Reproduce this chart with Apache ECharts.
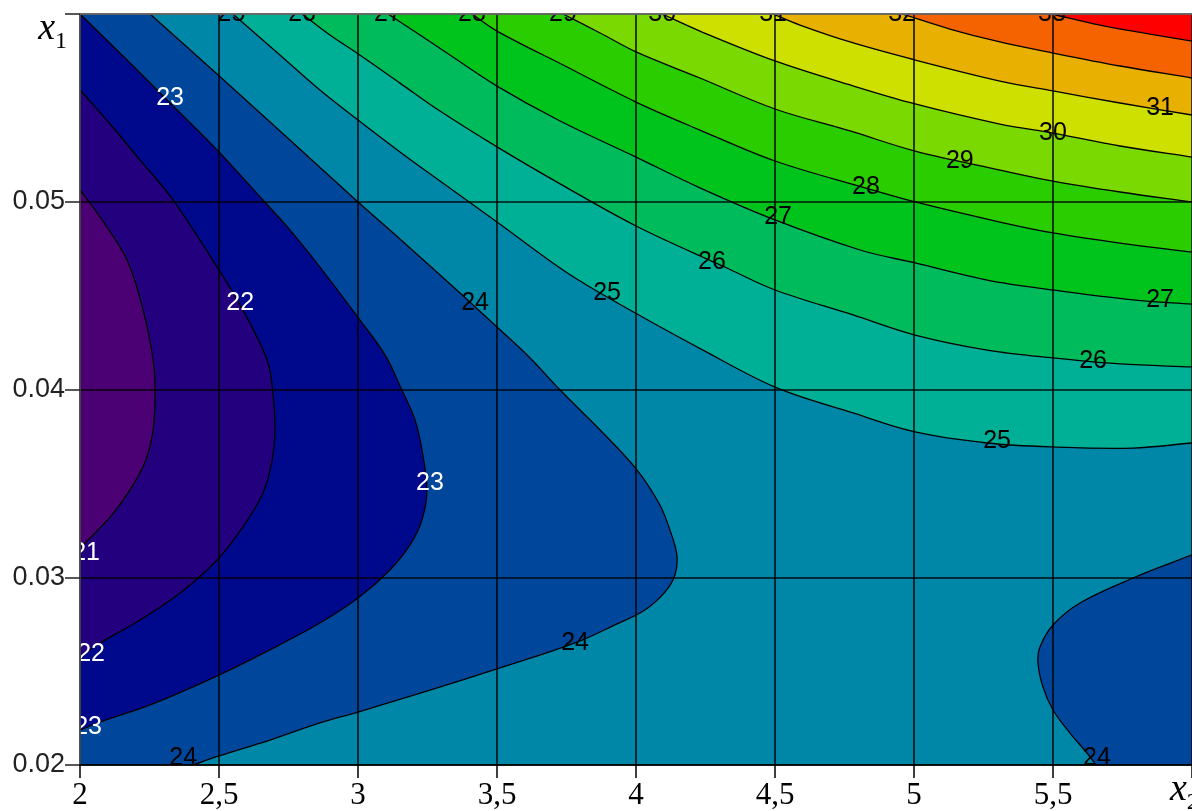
<!DOCTYPE html>
<html>
<head>
<meta charset="utf-8">
<script src="https://cdn.jsdelivr.net/npm/echarts@6/dist/echarts.min.js"></script>
<style>
  html, body { margin: 0; padding: 0; background: #ffffff; }
  #chart { width: 1192px; height: 811px; }
</style>
</head>
<body>
<div id="chart"></div>
<script>
// Axis ranges and ticks (x2 horizontal, x1 vertical)
const x2Ticks = [2, 2.5, 3, 3.5, 4, 4.5, 5, 5.5, 6];
const x1Ticks = [0.02, 0.03, 0.04, 0.05, 0.06];

// Contour lines, points as [x2, x1]
const c21 = [[2.000,0.05063],[2.072,0.04919],[2.169,0.04690],[2.227,0.04423],[2.263,0.04157],[2.270,0.03997],[2.263,0.03784],[2.234,0.03614],[2.180,0.03465],[2.115,0.03332],[2.054,0.03236],[2.000,0.03156]];
const c22 = [[2.000,0.05595],[2.108,0.05414],[2.216,0.05222],[2.335,0.05009],[2.493,0.04652],[2.586,0.04423],[2.673,0.04157],[2.694,0.03981],[2.701,0.03784],[2.691,0.03624],[2.658,0.03449],[2.586,0.03268],[2.493,0.03092],[2.360,0.02916],[2.216,0.02772],[2.072,0.02650],[2.000,0.02575]];
const c23 = [[2.000,0.06000],[2.162,0.05766],[2.324,0.05526],[2.493,0.05276],[2.658,0.05009],[2.755,0.04850],[2.863,0.04652],[3.007,0.04370],[3.097,0.04184],[3.158,0.03997],[3.205,0.03838],[3.230,0.03678],[3.248,0.03465],[3.230,0.03305],[3.187,0.03172],[3.115,0.03039],[3.000,0.02889],[2.863,0.02756],[2.683,0.02613],[2.500,0.02479],[2.252,0.02320],[2.072,0.02229],[2.000,0.02186]];
const c24West = [[2.252,0.06000],[2.493,0.05680],[2.755,0.05329],[3.000,0.04999],[3.151,0.04802],[3.367,0.04514],[3.500,0.04333],[3.619,0.04168],[3.727,0.03997],[3.871,0.03784],[4.004,0.03571],[4.086,0.03385],[4.122,0.03252],[4.147,0.03119],[4.140,0.03012],[4.104,0.02921],[4.032,0.02826],[3.924,0.02746],[3.781,0.02650],[3.511,0.02517],[3.259,0.02399],[3.000,0.02282],[2.863,0.02224],[2.683,0.02133],[2.500,0.02048],[2.406,0.02000]];
const c24East = [[6.000,0.03119],[5.788,0.02996],[5.597,0.02863],[5.500,0.02746],[5.453,0.02628],[5.446,0.02543],[5.464,0.02415],[5.500,0.02293],[5.561,0.02170],[5.622,0.02064],[5.655,0.02000]];
const c25 = [[2.550,0.06000],[2.719,0.05782],[2.863,0.05595],[3.000,0.05435],[3.151,0.05265],[3.295,0.05110],[3.500,0.04892],[3.759,0.04615],[4.004,0.04402],[4.241,0.04210],[4.500,0.04013],[4.781,0.03875],[5.004,0.03774],[5.263,0.03715],[5.500,0.03694],[5.788,0.03688],[6.000,0.03715]];
const c26 = [[2.799,0.06000],[2.899,0.05888],[2.996,0.05792],[3.151,0.05632],[3.295,0.05483],[3.500,0.05292],[3.727,0.05095],[4.000,0.04871],[4.327,0.04647],[4.500,0.04530],[4.781,0.04397],[5.004,0.04290],[5.263,0.04210],[5.500,0.04168],[5.741,0.04136],[6.000,0.04120]];
const c27 = [[3.108,0.06000],[3.223,0.05888],[3.320,0.05792],[3.500,0.05616],[3.727,0.05430],[4.000,0.05238],[4.230,0.05074],[4.500,0.04903],[4.806,0.04743],[5.004,0.04674],[5.263,0.04583],[5.500,0.04530],[5.788,0.04477],[6.000,0.04455]];
const c28 = [[3.410,0.06000],[3.500,0.05909],[3.745,0.05723],[4.000,0.05531],[4.230,0.05382],[4.500,0.05217],[4.824,0.05074],[5.004,0.04999],[5.309,0.04892],[5.500,0.04834],[5.741,0.04780],[6.000,0.04732]];
const c29 = [[3.737,0.06000],[3.871,0.05899],[4.000,0.05798],[4.230,0.05659],[4.500,0.05494],[4.770,0.05377],[5.004,0.05270],[5.309,0.05169],[5.500,0.05110],[5.741,0.05052],[6.000,0.04999]];
const c30 = [[4.094,0.06000],[4.230,0.05909],[4.500,0.05750],[4.770,0.05622],[5.004,0.05521],[5.309,0.05414],[5.500,0.05366],[5.741,0.05297],[6.000,0.05238]];
const c31 = [[4.493,0.06000],[4.590,0.05941],[4.770,0.05851],[5.004,0.05755],[5.309,0.05643],[5.500,0.05590],[5.741,0.05526],[6.000,0.05462]];
const c32 = [[4.957,0.06000],[5.129,0.05920],[5.309,0.05851],[5.500,0.05792],[5.741,0.05723],[6.000,0.05659]];
const c33 = [[5.496,0.06000],[5.669,0.05941],[5.849,0.05893],[6.000,0.05856]];

// Each contour line with its level
const contourLevels = [21, 22, 23, 24, 24, 25, 26, 27, 28, 29, 30, 31, 32, 33];
const contourLines  = [c21, c22, c23, c24West, c24East, c25, c26, c27, c28, c29, c30, c31, c32, c33];

// Fill colour of the band [level, level + 1]
const bandLevels = [20, 21, 22, 23, 24, 25, 26, 27, 28, 29, 30, 31, 32, 33];
const bandColors = ['#4b0073', '#23007e', '#00088b', '#00469b', '#0087a8', '#00b096',
                    '#00bb5c', '#00c31c', '#29cd00', '#79d900', '#cde000', '#e8b000',
                    '#f56300', '#ff0000'];

// Contour labels: [level, x2, x1]
const contourLabels = [
  [23, 2.324, 0.05553], [22, 2.576, 0.04461], [23, 3.259, 0.03502],
  [21, 2.022, 0.03129], [22, 2.040, 0.02591], [23, 2.029, 0.02202],
  [24, 2.371, 0.02037], [24, 3.421, 0.04461], [24, 3.781, 0.02650], [24, 5.658, 0.02037],
  [25, 3.896, 0.04514], [26, 4.273, 0.04679], [27, 4.511, 0.04919], [28, 4.827, 0.05079],
  [29, 5.165, 0.05217], [30, 5.500, 0.05366], [31, 5.885, 0.05499],
  [27, 5.885, 0.04477], [26, 5.644, 0.04152], [25, 5.299, 0.03726],
  [25, 2.545, 0.06], [26, 2.799, 0.06], [27, 3.108, 0.06], [28, 3.410, 0.06], [29, 3.737, 0.06],
  [30, 4.094, 0.06], [31, 4.493, 0.06], [32, 4.957, 0.06], [33, 5.496, 0.06]
];

// ---- geometry helpers ----
const xMin = x2Ticks[0], xMax = x2Ticks[x2Ticks.length - 1];
const yMin = x1Ticks[0], yMax = x1Ticks[x1Ticks.length - 1];
const SMOOTH = 0.35;
const colorOf = lv => bandColors[bandLevels.indexOf(lv)];
// Repeating the end vertices keeps bezier smoothing tangent-free at the
// joints, so polygon edges along the frame stay straight and every fill
// boundary follows exactly the same curve as its stroked contour.
const dupEnds = pts => [pts[0]].concat(pts, [pts[pts.length - 1]]);
const dupAll = pts => pts.reduce((a, p) => a.concat([p, p]), []);

// ---- filled regions, painted in order (later ones on top) ----
const regions = [];
regions.push({ level: 24, smooth: 0, pts: [[xMin, yMin], [xMax, yMin], [xMax, yMax], [xMin, yMax]] });
[[25, c25], [26, c26], [27, c27], [28, c28], [29, c29], [30, c30], [31, c31], [32, c32], [33, c33]]
  .forEach(([lv, line]) => regions.push({ level: lv, pts: dupEnds(line).concat(dupAll([[xMax, yMax]])) }));
regions.push({ level: 23, pts: dupEnds(c24West).concat(dupAll([[xMin, yMin], [xMin, yMax]])) });
regions.push({ level: 22, pts: dupEnds(c23) });
regions.push({ level: 21, pts: dupEnds(c22) });
regions.push({ level: 20, pts: dupEnds(c21) });
regions.push({ level: 23, pts: dupEnds(c24East).concat(dupAll([[xMax, yMin]])) });

const fillSeries = {
  type: 'custom',
  coordinateSystem: 'cartesian2d',
  clip: true,
  silent: true,
  z: 2,
  data: regions.map(r => r.pts[0]),
  renderItem: function (params, api) {
    const r = regions[params.dataIndex];
    return {
      type: 'polygon',
      shape: { points: r.pts.map(p => api.coord(p)), smooth: r.smooth === 0 ? 0 : SMOOTH },
      style: { fill: colorOf(r.level) }
    };
  }
};

const lineSeries = {
  type: 'custom',
  coordinateSystem: 'cartesian2d',
  clip: true,
  silent: true,
  z: 3,
  data: contourLines.map(l => l[0]),
  renderItem: function (params, api) {
    const line = contourLines[params.dataIndex];
    return {
      type: 'polyline',
      shape: { points: dupEnds(line).map(p => api.coord(p)), smooth: SMOOTH },
      style: { stroke: '#000000', lineWidth: 1.3, fill: null }
    };
  }
};

const labelSeries = {
  type: 'custom',
  coordinateSystem: 'cartesian2d',
  clip: true,
  silent: true,
  z: 4,
  data: contourLabels.map(l => [l[1], l[2]]),
  renderItem: function (params, api) {
    const l = contourLabels[params.dataIndex];
    const p = api.coord([l[1], l[2]]);
    return {
      type: 'text',
      x: p[0],
      y: p[1],
      style: {
        text: String(l[0]),
        fill: l[0] <= 23 ? '#ffffff' : '#000000',
        font: '25px "Liberation Sans", Arial, sans-serif',
        align: 'center',
        verticalAlign: 'middle'
      }
    };
  }
};

const gridLine = { show: true, lineStyle: { color: '#000000', width: 1.6, opacity: 0.9 } };
const nameRich = {
  v: { fontFamily: '"Liberation Serif", serif', fontStyle: 'italic', fontSize: 38, color: '#000', lineHeight: 30 },
  s: { fontFamily: '"Liberation Serif", serif', fontSize: 24, color: '#000', lineHeight: 50, verticalAlign: 'bottom' }
};

const chart = echarts.init(document.getElementById('chart'), null, { renderer: 'canvas' });
chart.setOption({
  animation: false,
  backgroundColor: '#ffffff',
  grid: { left: 80, top: 14, right: 0, bottom: 46, outerBoundsMode: 'none', containLabel: false },
  xAxis: [{
    type: 'value', min: xMin, max: xMax, interval: 0.5, position: 'bottom', z: 10,
    axisLine: { show: true, lineStyle: { color: '#000', width: 1.5 } },
    axisTick: { show: true, length: 13, lineStyle: { color: '#000', width: 1.5 } },
    axisLabel: {
      margin: 15, fontFamily: '"Liberation Serif", serif', fontSize: 31, color: '#000',
      formatter: v => (v >= xMax ? '' : String(v).replace('.', ','))
    },
    splitLine: gridLine,
    name: '{v|x}{s|2}', nameLocation: 'end', nameGap: -22,
    nameTextStyle: { align: 'left', verticalAlign: 'top', rich: nameRich }
  }, {
    type: 'value', min: xMin, max: xMax, position: 'top', z: 10,
    axisLine: { show: true, lineStyle: { color: '#777', width: 1.5 } },
    axisTick: { show: false }, axisLabel: { show: false }, splitLine: { show: false }
  }],
  yAxis: {
    type: 'value', min: yMin, max: yMax, interval: 0.01, z: 10,
    axisLine: { show: true, lineStyle: { color: '#555', width: 1.5 } },
    axisTick: { show: true, length: 15, lineStyle: { color: '#222', width: 1.5 } },
    axisLabel: {
      margin: 15, fontFamily: '"Liberation Sans", Arial, sans-serif', fontSize: 27, color: '#222',
      formatter: v => (Math.round(v * 100) >= 6 ? '' : v.toFixed(2))
    },
    splitLine: gridLine,
    name: '{v|x}{s|1}', nameLocation: 'end', nameGap: 10,
    nameTextStyle: { align: 'right', verticalAlign: 'top', padding: [0, 13, 0, 0], rich: nameRich }
  },
  series: [fillSeries, lineSeries, labelSeries]
});
</script>
</body>
</html>
